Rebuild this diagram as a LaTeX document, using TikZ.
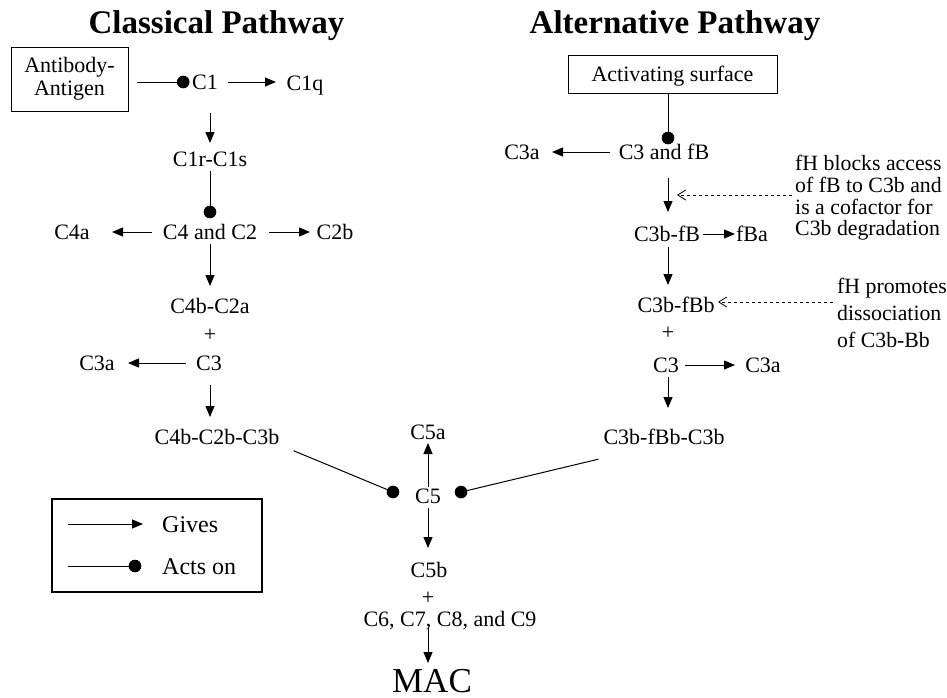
\documentclass[tikz,border=0pt]{standalone}
\usepackage{fontspec}
\setmainfont{Liberation Serif}
\usetikzlibrary{arrows.meta,calc}
\begin{document}
\begin{tikzpicture}[x=1pt,y=-1pt,
  lab/.style={font=\fontsize{22}{26}\selectfont, inner sep=0pt, text height=15pt, text depth=0pt},
  ttl/.style={font=\fontsize{33}{40}\selectfont\bfseries, inner sep=0pt, text height=21.8pt, text depth=0pt},
  macst/.style={font=\fontsize{35}{40}\selectfont, inner sep=0pt, text height=23.2pt, text depth=0pt},
  boxst/.style={draw, line width=1pt, inner sep=0pt, align=center},
  note1/.style={font=\fontsize{21.8}{21.7}\selectfont, align=left, inner sep=0pt, anchor=west},
  note2/.style={font=\fontsize{21.8}{27}\selectfont, align=left, inner sep=0pt, anchor=west},
  leg/.style={font=\fontsize{24}{28}\selectfont, inner sep=0pt, text height=16.3pt, text depth=0pt, anchor=west},
  gives/.style={-{Triangle[length=11pt,width=9pt]}, line width=1pt},
  acts/.style={-{Circle[length=12.6pt]}, line width=1pt},
  fh/.style={dash pattern=on 3.5pt off 2.5pt, -{Straight Barb[length=8pt,width=10pt]}, line width=0.8pt}]
\useasboundingbox (0,0) rectangle (947,697);
\coordinate (colL) at (210,0);
\coordinate (colR) at (668,0);
\coordinate (colM) at (428,0);

% titles
\node[ttl] (t1) at (216.5,22.5) {Classical Pathway};
\node[ttl] (t2) at (675,22.5) {Alternative Pathway};

% classical pathway
\node[boxst, font=\fontsize{22}{23}\selectfont, minimum width=117pt, minimum height=64pt] (ab) at (69.5,79) {Antibody-\\Antigen};
\node[lab] (c1) at (205,82) {C1};
\node[lab] (c1q) at (305,83) {C1q};
\node[lab] (c1r) at (210,159) {C1r-C1s};
\node[lab] (c4) at (210,232) {C4 and C2};
\node[lab] (c4a) at (72,232) {C4a};
\node[lab] (c2b) at (335,232) {C2b};
\node[lab] (c4b2a) at (210,306) {C4b-C2a};
\node[lab] (pl1) at (210,334) {+};
\node[lab] (c3L) at (209,363) {C3};
\node[lab] (c3aL) at (97,363) {C3a};
\node[lab] (c423) at (217,437) {C4b-C2b-C3b};

\draw[acts, shorten <=8pt, shorten >=15.5pt] (ab.east |- c1.center) -- (c1.center);
\draw[gives, shorten <=23pt, shorten >=29pt] (c1.center) -- (c1.center -| c1q.center);
\draw[gives, shorten <=31pt, shorten >=16pt] (colL |- c1.center) -- (c1r.center);
\draw[acts, shorten <=12pt, shorten >=13.7pt] (c1r.center) -- (c4.center);
\draw[gives, shorten <=58pt, shorten >=40pt] (c4.center) -- (c4a.center);
\draw[gives, shorten <=59pt, shorten >=25pt] (c4.center) -- (c2b.center);
\draw[gives, shorten <=12pt, shorten >=20pt] (c4.center) -- (c4b2a.center);
\draw[gives, shorten <=23pt, shorten >=31pt] (c3L.center) -- (c3aL.center);
\draw[gives, shorten <=22pt, shorten >=20pt] (colL |- c3L.center) -- (colL |- c423.center);

% terminal pathway
\node[lab] (c5) at (428,496) {C5};
\node[lab] (c5a) at (428,432) {C5a};
\node[lab] (c5b) at (429,570) {C5b};
\node[lab] (pl3) at (428,597) {+};
\node[lab] (c6) at (450,619) {C6, C7, C8, and C9};
\node[macst] (mac) at (432,681) {MAC};

\draw[gives, shorten <=9pt, shorten >=11pt] (c5.center) -- (c5a.center);
\draw[gives, shorten <=12pt, shorten >=22pt] (c5.center) -- (colM |- c5b.center);
\draw[gives, shorten <=9pt, shorten >=18pt] (colM |- c6.center) -- (colM |- mac.center);

% alternative pathway
\node[boxst, font=\fontsize{22}{26}\selectfont, text height=15pt, text depth=0pt, minimum width=209pt, minimum height=38pt] (act) at (672.5,74) {Activating surface};
\node[lab] (c3fb) at (664,152) {C3 and fB};
\node[lab] (c3aR) at (522,152) {C3a};
\node[lab] (c3bfb) at (667,234) {C3b-fB};
\node[lab] (fba) at (752,234) {fBa};
\node[lab] (c3bfbb) at (676,305) {C3b-fBb};
\node[lab] (pl2) at (668,332) {+};
\node[lab] (c3R) at (666,365) {C3};
\node[lab] (c3aR2) at (763,365) {C3a};
\node[lab] (c3b3) at (664,437) {C3b-fBb-C3b};
\node[note1] (n1) at (795,198) {fH blocks access\\of fB to C3b and\\is a cofactor for\\C3b degradation};
\node[note2] (n2) at (837,312.5) {fH promotes\\dissociation\\of C3b-Bb};

\draw[acts, shorten >=7.7pt] (colR |- act.south) -- (colR |- c3fb.center);
\draw[gives, shorten <=54pt, shorten >=30pt] (c3fb.center) -- (c3aR.center);
\draw[gives, shorten <=26pt, shorten >=22pt] (colR |- c3fb.center) -- (colR |- c3bfb.center);
\draw[gives, shorten <=36pt, shorten >=17pt] (c3bfb.center) -- (fba.center);
\draw[gives, shorten <=13pt, shorten >=20pt] (colR |- c3bfb.center) -- (colR |- c3bfbb.center);
\draw[gives, shorten <=19pt, shorten >=28pt] (c3R.center) -- (c3aR2.center);
\draw[gives, shorten <=12pt, shorten >=29pt] (colR |- c3R.center) -- (colR |- c3b3.center);
\draw[fh] ($(n1.west)+(-3,-3)$) -- ($(colR |- n1.west)+(9,-3)$);
\draw[fh] ($(n2.west)+(-4,-10.5)$) -- ($(colR |- n2.west)+(50,-10.5)$);

% convergence on C5
\draw[acts] ($(c423.south east)+(14,6)$) -- ($(c5.center)+(-29.2,-1.6)$);
\draw[acts] ($(c3b3.south west)+(-5,14.5)$) -- ($(c5.center)+(26.9,-2.5)$);

% legend
\draw[line width=2pt] (52,499) rectangle (262,592);
\coordinate (g0) at (68,524);
\coordinate (a0) at (68,566);
\node[leg] (lg) at (162,524) {Gives};
\node[leg] (la) at (162,566) {Acts on};
\draw[gives] (g0) -- ($(lg.west)+(-19,0)$);
\draw[acts] (a0) -- ($(la.west)+(-20.7,0)$);
\end{tikzpicture}
\end{document}
